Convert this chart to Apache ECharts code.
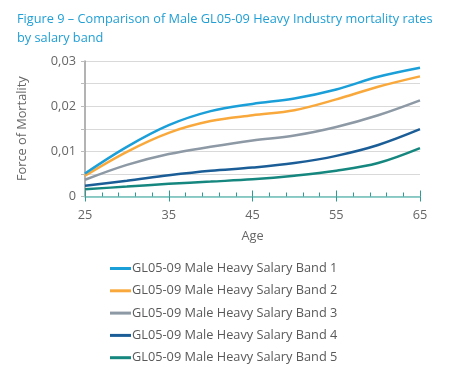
<!DOCTYPE html>
<html><head><meta charset="utf-8">
<script src="https://cdn.jsdelivr.net/npm/echarts@6/dist/echarts.min.js"></script>
<style>html,body{margin:0;padding:0;background:#fff}#c{width:450px;height:384px}</style>
</head><body><div id="c"></div>
<script>
const ages = [25, 30, 35, 40, 45, 50, 55, 60, 65];
const band1 = [0.0051, 0.0110, 0.0158, 0.0189, 0.0205, 0.0217, 0.0237, 0.0265, 0.0285];
const band2 = [0.0046, 0.0099, 0.0141, 0.0167, 0.0180, 0.0191, 0.0215, 0.0243, 0.0266];
const band3 = [0.0037, 0.0070, 0.0094, 0.0110, 0.0124, 0.0135, 0.0154, 0.0180, 0.0213];
const band4 = [0.0024, 0.0035, 0.0047, 0.0057, 0.0064, 0.0074, 0.0090, 0.0114, 0.0149];
const band5 = [0.0016, 0.0022, 0.0028, 0.0033, 0.0038, 0.0046, 0.0057, 0.0074, 0.0107];
const names = ['GL05-09 Male Heavy Salary Band 1','GL05-09 Male Heavy Salary Band 2','GL05-09 Male Heavy Salary Band 3','GL05-09 Male Heavy Salary Band 4','GL05-09 Male Heavy Salary Band 5'];
const colors = ['#1b9fd9','#f9a93c','#8d99a5','#1b5e97','#16877f'];
const allData = [band1, band2, band3, band4, band5];
const FONT = '"Open Sans", "Noto Sans", sans-serif';

const chart = echarts.init(document.getElementById('c'), null, {renderer:'canvas'});
chart.setOption({
  animation: false,
  textStyle: {fontFamily: FONT},
  title: {
    text: 'Figure 9 – Comparison of Male GL05-09 Heavy Industry mortality rates\nby salary band',
    left: 12, top: 5,
    textStyle: {fontFamily: FONT, fontSize: 12.75, fontWeight: 'normal', color: '#1f9fd5', lineHeight: 19}
  },
  grid: {left: 85, right: 30, top: 61, bottom: 187.5, containLabel: false},
  legend: {
    orient: 'vertical', left: 105, top: 257,
    itemWidth: 21, itemHeight: 3, itemGap: 9.3,
    icon: 'rect',
    textStyle: {fontFamily: FONT, fontSize: 12.75, color: '#595959', padding: [0,0,0,-4]},
    data: names
  },
  xAxis: [{
    type: 'value', min: 25, max: 65, interval: 10,
    name: 'Age', nameLocation: 'middle', nameGap: 33,
    nameTextStyle: {fontFamily: FONT, fontSize: 12.75, color: '#666'},
    axisLine: {show: true, lineStyle: {color: '#6dc0bb', width: 1.5}},
    axisTick: {show: true, inside: true, length: 6, lineStyle: {color: '#2d9a93', width: 1}},
    minorTick: {show: true, splitNumber: 5, length: 4, lineStyle: {color: '#2d9a93', width: 1}},
    axisLabel: {fontFamily: FONT, fontSize: 12.75, color: '#666', margin: 12},
    splitLine: {show: false}
  }, {
    type: 'value', min: 25, max: 65, interval: 10, position: 'bottom',
    axisLine: {show: false},
    axisTick: {show: true, inside: false, length: 5, lineStyle: {color: '#2d9a93', width: 1}},
    axisLabel: {show: false}, splitLine: {show: false}
  }],
  yAxis: {
    type: 'value', min: 0, max: 0.03, interval: 0.005,
    name: 'Force of Mortality', nameLocation: 'middle', nameGap: 56, nameRotate: 90,
    nameTextStyle: {fontFamily: FONT, fontSize: 12.75, color: '#666'},
    axisLine: {show: true, lineStyle: {color: '#9a9a9a', width: 1.5}},
    axisTick: {show: true, length: 4, lineStyle: {color: '#bbb'}},
    axisLabel: {
      fontFamily: FONT, fontSize: 12.75, color: '#666', margin: 9,
      formatter: v => {
        const r = Math.round(v * 1000);
        if (r % 10 !== 0) return '';
        return r === 0 ? '0' : (v.toFixed(2)).replace('.', ',');
      }
    },
    splitLine: {show: true, lineStyle: {color: '#d9d9d9', width: 1}}
  },
  series: allData.map((d, i) => ({
    name: names[i], type: 'line', smooth: 0.35, showSymbol: false, symbol: 'none',
    data: ages.map((a, j) => [a, d[j]]),
    lineStyle: {color: colors[i], width: 2.5},
    itemStyle: {color: colors[i]},
    z: 10 - i
  }))
});
</script></body></html>
